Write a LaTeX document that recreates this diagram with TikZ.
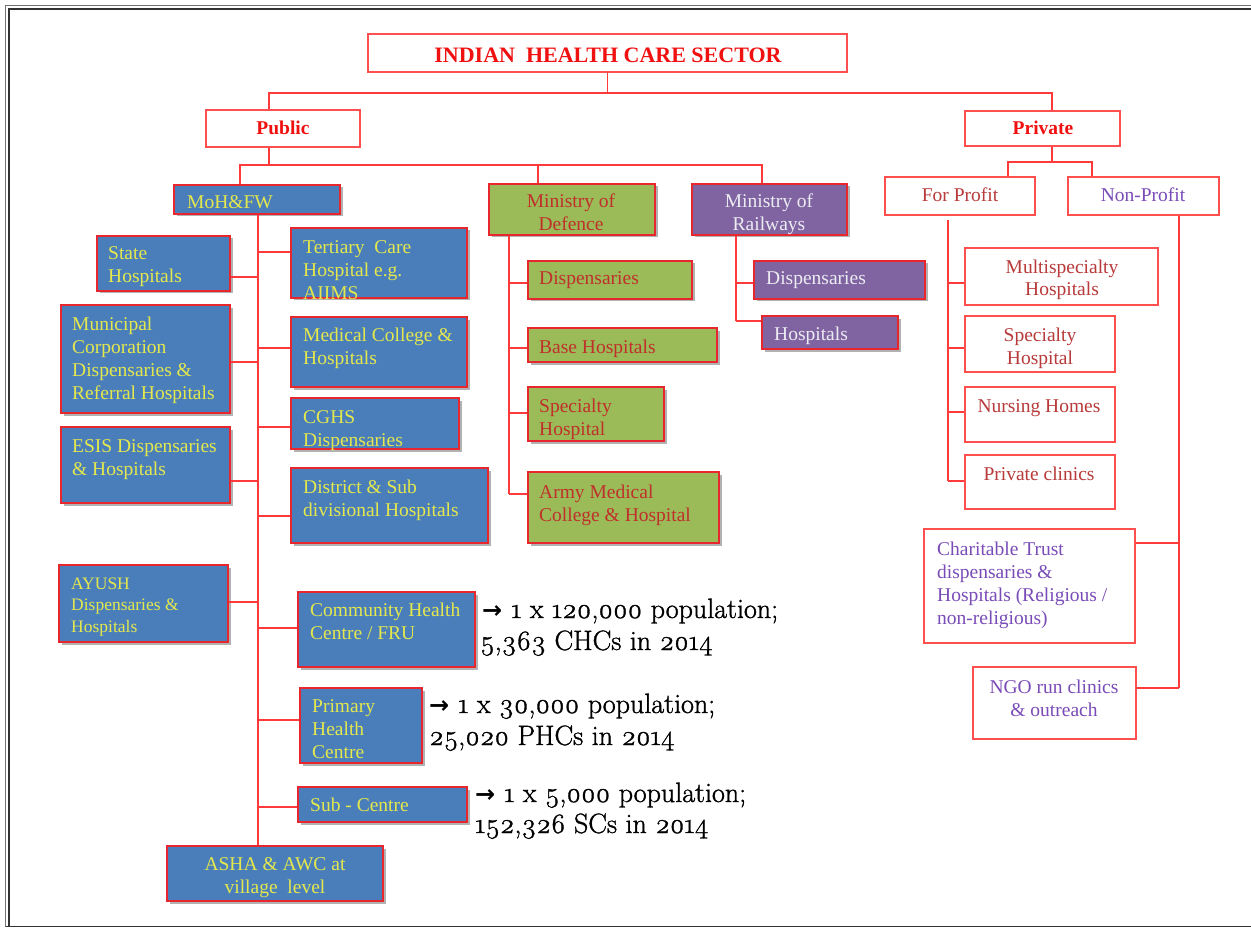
\documentclass[tikz,border=0pt]{standalone}
\usepackage{fontspec}
\setmainfont{Liberation Serif}
\newfontfamily\annofont[Numbers=OldStyle,FakeBold=1.2]{Latin Modern Roman}
\newfontfamily\arrowfont{DejaVu Sans}
\usetikzlibrary{shadows,fit}
\definecolor{bxblue}{HTML}{4A7EBB}
\definecolor{bxgreen}{HTML}{9BBB59}
\definecolor{bxpurple}{HTML}{8064A2}
\definecolor{edgered}{HTML}{E8262E}
\definecolor{lightred}{HTML}{FF4F4F}
\definecolor{connred}{HTML}{FF3A3A}
\definecolor{yelT}{HTML}{E4E84C}
\definecolor{darkredT}{HTML}{C0302A}
\definecolor{paleT}{HTML}{ECECF2}
\definecolor{profitT}{HTML}{B83A3A}
\definecolor{purpT}{HTML}{7A4CB8}
\definecolor{titleT}{HTML}{F01010}
\newcommand\annarrow{{\arrowfont\bfseries\fontsize{24}{32}\selectfont →}\hspace{9pt}}
\tikzset{
  x=1pt,y=-1pt,
  fbox/.style={inner sep=0pt, line width=1.8pt, draw=edgered,
    drop shadow={shadow xshift=2.5pt,shadow yshift=-2.5pt,opacity=0.3,fill=black}},
  bluebox/.style={fbox, fill=bxblue},
  greenbox/.style={fbox, fill=bxgreen},
  purplebox/.style={fbox, fill=bxpurple},
  wbox/.style={inner sep=0pt, line width=1.4pt, draw=lightred, fill=white},
  conn/.style={draw=connred, line width=1.6pt},
  txt/.style={inner sep=0pt, font=\fontsize{19.5}{23}\selectfont, anchor=base west, align=left},
  ctxt/.style={txt, anchor=base, align=center},
  ytxt/.style={txt, text=yelT},
  gtxt/.style={txt, text=darkredT},
  ptxt/.style={txt, text=paleT},
  htxt/.style={ctxt, font=\fontsize{19.5}{23}\selectfont\bfseries, text=titleT},
  anno/.style={inner sep=0pt, anchor=base west, align=left, font=\annofont\fontsize{28}{32}\selectfont},
}
\begin{document}
\begin{tikzpicture}
\useasboundingbox (0,0) rectangle (1251,928);
% frame
\draw[black!55, line width=1.3pt] (5.5,927) -- (5.5,5.5) -- (1251,5.5);
\draw[black!80, line width=1.8pt] (9,926) -- (9,9) -- (1251,9);
\draw[black!80, line width=1.8pt] (5.5,926.5) -- (1251,926.5);

% boxes
\node[wbox, fit={(368,34) (847,72)}] (title) {};
\node[wbox, fit={(206,110) (360,147)}] (public) {};
\node[wbox, fit={(965,111) (1120,146)}] (private) {};
\node[wbox, fit={(885,177) (1035,215)}] (forprofit) {};
\node[wbox, fit={(1068,177) (1219,215)}] (nonprofit) {};
\node[bluebox, fit={(174,185) (340,214)}] (moh) {};
\node[greenbox, fit={(489,184) (655,235)}] (mod) {};
\node[purplebox, fit={(692,184) (847,235)}] (mor) {};
\node[bluebox, fit={(97,236) (230,291)}] (state) {};
\node[bluebox, fit={(61,305) (230,413)}] (muni) {};
\node[bluebox, fit={(61,427) (230,503)}] (esis) {};
\node[bluebox, fit={(59,565) (228,642)}] (ayush) {};
\node[bluebox, fit={(291,228) (467,298)}] (tert) {};
\node[bluebox, fit={(291,317) (467,387)}] (med) {};
\node[bluebox, fit={(291,398) (459,449)}] (cghs) {};
\node[bluebox, fit={(291,468) (488,543)}] (dist) {};
\node[bluebox, fit={(298,592) (475,667)}] (chc) {};
\node[bluebox, fit={(300,688) (422,763)}] (phc) {};
\node[bluebox, fit={(298,787) (467,822)}] (sc) {};
\node[bluebox, fit={(167,846) (383,901)}] (asha) {};
\node[greenbox, fit={(528,261) (692,299)}] (mdisp) {};
\node[greenbox, fit={(528,328) (717,362)}] (mbase) {};
\node[greenbox, fit={(528,387) (664,441)}] (mspec) {};
\node[greenbox, fit={(528,472) (719,543)}] (marmy) {};
\node[purplebox, fit={(754,261) (925,299)}] (rdisp) {};
\node[purplebox, fit={(762,316) (898,349)}] (rhosp) {};
\node[wbox, fit={(965,248) (1158,305)}] (multi) {};
\node[wbox, fit={(965,316) (1115,372)}] (pspec) {};
\node[wbox, fit={(965,387) (1115,442)}] (nurse) {};
\node[wbox, fit={(965,455) (1115,509)}] (pclin) {};
\node[wbox, fit={(924,529) (1135,643)}] (charit) {};
\node[wbox, fit={(973,667) (1136,739)}] (ngo) {};

% junction coordinates
\coordinate (b1L) at (269,93);
\coordinate (b1R) at (1052,93);
\coordinate (b2L) at (240,165);
\coordinate (b2M) at (538,165);
\coordinate (b2R) at (762,165);
\coordinate (b3L) at (1008,162);
\coordinate (b3R) at (1092,162);
\coordinate (mohv) at (258,214);
\coordinate (modv) at (509,235);
\coordinate (morv) at (736,235);
\coordinate (fpv) at (948,220);
\coordinate (npv) at (1179,215);

% connectors
\draw[conn] (title.south) -- (title.south |- b1L);
\draw[conn] (public.north -| b1L) -- (b1L) -- (b1R) -- (private.north -| b1R);
\draw[conn] (public.south -| b1L) -- (b1L |- b2L);
\draw[conn] (moh.north -| b2L) -- (b2L) -- (b2R) -- (mor.north -| b2R);
\draw[conn] (b2M) -- (mod.north -| b2M);
\draw[conn] (private.south -| b1R) -- (b1R |- b3L);
\draw[conn] (forprofit.north -| b3L) -- (b3L) -- (b3R) -- (nonprofit.north -| b3R);

\draw[conn] (moh.south -| mohv) -- (asha.north -| mohv);
\foreach \n/\yy in {state/277, muni/362, esis/481, ayush/602}
  \draw[conn] (\n.east |- 0,\yy) -- (mohv |- 0,\yy);
\foreach \n/\yy in {tert/252, med/348, cghs/427, dist/516, chc/628, phc/720, sc/807}
  \draw[conn] (\n.west |- 0,\yy) -- (mohv |- 0,\yy);

\draw[conn] (mod.south -| modv) -- (modv |- 0,494);
\foreach \n/\yy in {mdisp/283, mbase/348, mspec/413, marmy/494}
  \draw[conn] (\n.west |- 0,\yy) -- (modv |- 0,\yy);

\draw[conn] (mor.south -| morv) -- (morv |- 0,321);
\foreach \n/\yy in {rdisp/283, rhosp/321}
  \draw[conn] (\n.west |- 0,\yy) -- (morv |- 0,\yy);

\draw[conn] (fpv) -- (fpv |- 0,481);
\foreach \n/\yy in {multi/283, pspec/348, nurse/412, pclin/481}
  \draw[conn] (\n.west |- 0,\yy) -- (fpv |- 0,\yy);

\draw[conn] (nonprofit.south -| npv) -- (npv |- 0,688);
\foreach \n/\yy in {charit/543, ngo/688}
  \draw[conn] (\n.east |- 0,\yy) -- (npv |- 0,\yy);

% texts (multi-line nodes are placed by the baseline of their last line)
\node[htxt, font=\fontsize{22}{25}\selectfont\bfseries] (titleT) at (608,63) {INDIAN\ \ HEALTH CARE SECTOR};
\node[htxt] (publicT) at (283,135) {Public};
\node[htxt] (privateT) at (1043,135) {Private};
\node[ctxt, text=profitT] (fpT) at (960,202) {For Profit};
\node[ctxt, text=purpT] (npT) at (1143,202) {Non-Profit};

\node[ytxt] (mohT) at (187,209) {MoH\&FW};
\node[gtxt, anchor=base, align=center] (modT) at (571,231) {Ministry of\\Defence};
\node[ptxt, anchor=base, align=center] (morT) at (769,231) {Ministry of\\Railways};

\node[ytxt] (stateT) at (108,283) {State\\Hospitals};
\node[ytxt] (muniT) at (72,399) {Municipal\\Corporation\\Dispensaries \&\\Referral Hospitals};
\node[ytxt] (esisT) at (72,475) {ESIS Dispensaries\\\& Hospitals};
\node[ytxt, font=\fontsize{17.5}{21.5}\selectfont] (ayushT) at (71,632) {AYUSH\\Dispensaries \&\\Hospitals};
\node[ytxt] (tertT) at (303,299) {Tertiary\ \ Care\\Hospital e.g.\\AIIMS};
\node[ytxt] (medT) at (303,364) {Medical College \&\\Hospitals};
\node[ytxt] (cghsT) at (303,446) {CGHS\\Dispensaries};
\node[ytxt] (distT) at (303,516) {District \& Sub\\divisional Hospitals};
\node[ytxt] (chcT) at (310,639) {Community Health\\Centre / FRU};
\node[ytxt] (phcT) at (312,758) {Primary\\Health\\Centre};
\node[ytxt] (scT) at (310,811) {Sub - Centre};
\node[ytxt, anchor=base, align=center] (ashaT) at (275,893) {ASHA \& AWC at\\village\ \ level};

\node[gtxt] (mdispT) at (539,285) {Dispensaries};
\node[gtxt] (mbaseT) at (539,353) {Base Hospitals};
\node[gtxt] (mspecT) at (539,435) {Specialty\\Hospital};
\node[gtxt] (marmyT) at (539,521) {Army Medical\\College \& Hospital};
\node[ptxt] (rdispT) at (766,285) {Dispensaries};
\node[ptxt] (rhospT) at (774,341) {Hospitals};

\node[ctxt, text=profitT] (multiT) at (1062,296) {Multispecialty\\Hospitals};
\node[ctxt, text=profitT] (pspecT) at (1040,364) {Specialty\\Hospital};
\node[ctxt, text=profitT] (nurseT) at (1039,412) {Nursing Homes};
\node[ctxt, text=profitT] (pclinT) at (1039,480) {Private clinics};
\node[txt, text=purpT] (charitT) at (937,624) {Charitable Trust\\dispensaries \&\\Hospitals (Religious /\\non-religious)};
\node[ctxt, text=purpT] (ngoT) at (1054,716) {NGO run clinics\\\& outreach};

% annotations
\node[anno] (chcA) at (482,650) {\annarrow 1 x 120,000 population;\\\hspace*{-2pt}5,363 CHCs in 2014};
\node[anno] (phcA) at (429,745) {\annarrow 1 x 30,000 population;\\25,020 PHCs in 2014};
\node[anno] (scA) at (475,833) {\annarrow 1 x 5,000 population;\\[-1pt]152,326 SCs in 2014};
\end{tikzpicture}
\end{document}
